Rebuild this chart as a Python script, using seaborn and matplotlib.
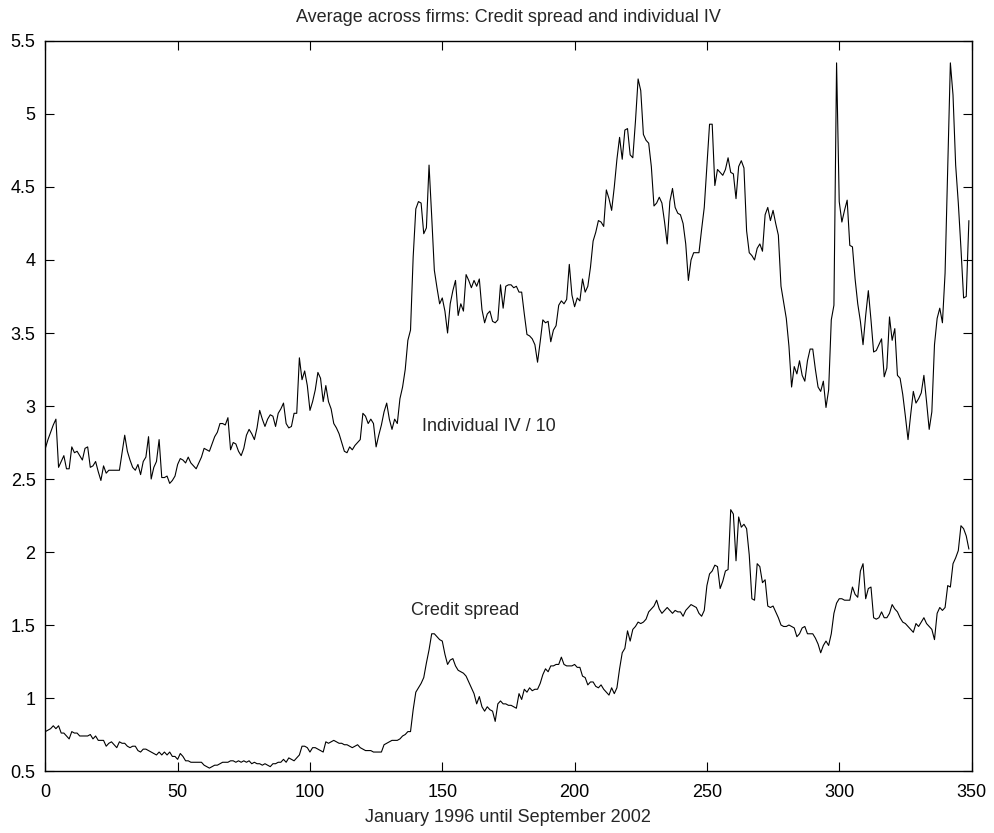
import numpy as np
import pandas as pd
import matplotlib
matplotlib.use("Agg")
import matplotlib.pyplot as plt
import seaborn as sns

# Weekly observations, January 1996 - September 2002 (index 0..349)
individual_iv_over_10 = [
    2.71, 2.77, 2.82, 2.87, 2.91, 2.58, 2.62, 2.66, 2.57, 2.57,
    2.72, 2.68, 2.69, 2.66, 2.63, 2.71, 2.72, 2.58, 2.59, 2.62,
    2.55, 2.49, 2.59, 2.54, 2.56, 2.56, 2.56, 2.56, 2.56, 2.68,
    2.80, 2.69, 2.63, 2.58, 2.56, 2.60, 2.53, 2.62, 2.65, 2.79,
    2.50, 2.58, 2.62, 2.77, 2.51, 2.51, 2.52, 2.47, 2.49, 2.52,
    2.60, 2.64, 2.63, 2.61, 2.65, 2.61, 2.59, 2.57, 2.61, 2.65,
    2.71, 2.70, 2.69, 2.74, 2.79, 2.82, 2.88, 2.88, 2.87, 2.92,
    2.70, 2.75, 2.74, 2.69, 2.66, 2.71, 2.80, 2.84, 2.81, 2.77,
    2.85, 2.97, 2.91, 2.86, 2.91, 2.94, 2.93, 2.86, 2.95, 2.98,
    3.02, 2.88, 2.85, 2.86, 2.95, 2.95, 3.33, 3.18, 3.24, 3.14,
    2.97, 3.03, 3.11, 3.23, 3.19, 3.03, 3.14, 3.03, 2.98, 2.88,
    2.85, 2.81, 2.75, 2.69, 2.68, 2.72, 2.70, 2.73, 2.75, 2.77,
    2.95, 2.93, 2.88, 2.91, 2.88, 2.72, 2.80, 2.87, 2.96, 3.02,
    2.91, 2.84, 2.91, 2.88, 3.05, 3.13, 3.25, 3.45, 3.52, 4.02,
    4.35, 4.40, 4.39, 4.18, 4.22, 4.65, 4.30, 3.93, 3.81, 3.70,
    3.74, 3.65, 3.50, 3.70, 3.79, 3.86, 3.62, 3.70, 3.65, 3.90,
    3.86, 3.81, 3.86, 3.82, 3.87, 3.66, 3.57, 3.63, 3.65, 3.58,
    3.57, 3.59, 3.83, 3.67, 3.82, 3.83, 3.83, 3.81, 3.82, 3.78,
    3.78, 3.63, 3.49, 3.48, 3.46, 3.42, 3.30, 3.44, 3.59, 3.57,
    3.58, 3.44, 3.52, 3.55, 3.69, 3.72, 3.70, 3.73, 3.97, 3.76,
    3.68, 3.74, 3.72, 3.87, 3.78, 3.82, 3.95, 4.13, 4.19, 4.27,
    4.26, 4.23, 4.48, 4.42, 4.34, 4.50, 4.69, 4.84, 4.69, 4.89,
    4.90, 4.72, 4.70, 4.95, 5.24, 5.16, 4.86, 4.82, 4.80, 4.64,
    4.37, 4.39, 4.43, 4.39, 4.26, 4.11, 4.40, 4.49, 4.36, 4.32,
    4.31, 4.25, 4.11, 3.86, 4.00, 4.05, 4.05, 4.05, 4.21, 4.36,
    4.64, 4.93, 4.93, 4.51, 4.62, 4.60, 4.58, 4.62, 4.70, 4.60,
    4.59, 4.42, 4.64, 4.68, 4.63, 4.20, 4.05, 4.03, 4.00, 4.08,
    4.11, 4.06, 4.31, 4.36, 4.27, 4.34, 4.25, 4.17, 3.82, 3.71,
    3.60, 3.41, 3.13, 3.27, 3.22, 3.31, 3.21, 3.17, 3.31, 3.39,
    3.39, 3.25, 3.13, 3.10, 3.17, 2.99, 3.11, 3.59, 3.69, 5.35,
    4.40, 4.26, 4.34, 4.41, 4.10, 4.09, 3.87, 3.70, 3.58, 3.42,
    3.62, 3.79, 3.59, 3.37, 3.38, 3.42, 3.46, 3.20, 3.26, 3.61,
    3.45, 3.53, 3.21, 3.19, 3.08, 2.93, 2.77, 2.94, 3.10, 3.02,
    3.05, 3.09, 3.21, 3.03, 2.84, 2.96, 3.42, 3.60, 3.67, 3.57,
    3.91, 4.63, 5.35, 5.13, 4.65, 4.39, 4.08, 3.74, 3.75, 4.27,
]

credit_spread = [
    0.77, 0.78, 0.79, 0.81, 0.79, 0.81, 0.76, 0.76, 0.74, 0.72,
    0.77, 0.76, 0.76, 0.74, 0.74, 0.74, 0.74, 0.75, 0.72, 0.74,
    0.71, 0.71, 0.71, 0.67, 0.69, 0.70, 0.68, 0.66, 0.70, 0.69,
    0.69, 0.67, 0.66, 0.67, 0.67, 0.64, 0.63, 0.65, 0.65, 0.64,
    0.63, 0.62, 0.61, 0.63, 0.61, 0.63, 0.61, 0.63, 0.60, 0.60,
    0.58, 0.62, 0.60, 0.57, 0.57, 0.56, 0.56, 0.56, 0.56, 0.56,
    0.54, 0.53, 0.52, 0.53, 0.54, 0.54, 0.55, 0.56, 0.56, 0.56,
    0.57, 0.57, 0.56, 0.57, 0.56, 0.57, 0.56, 0.57, 0.55, 0.56,
    0.55, 0.55, 0.54, 0.55, 0.54, 0.53, 0.55, 0.55, 0.56, 0.56,
    0.58, 0.56, 0.59, 0.58, 0.57, 0.59, 0.61, 0.67, 0.67, 0.66,
    0.63, 0.66, 0.66, 0.65, 0.64, 0.63, 0.70, 0.69, 0.70, 0.71,
    0.70, 0.69, 0.69, 0.68, 0.68, 0.67, 0.66, 0.67, 0.68, 0.66,
    0.65, 0.64, 0.64, 0.64, 0.63, 0.63, 0.63, 0.63, 0.68, 0.69,
    0.70, 0.71, 0.71, 0.71, 0.72, 0.74, 0.75, 0.77, 0.77, 0.92,
    1.04, 1.07, 1.10, 1.14, 1.24, 1.33, 1.44, 1.44, 1.42, 1.40,
    1.39, 1.30, 1.23, 1.26, 1.27, 1.22, 1.19, 1.18, 1.17, 1.15,
    1.11, 1.07, 1.03, 0.96, 1.01, 0.94, 0.91, 0.94, 0.92, 0.91,
    0.84, 0.96, 0.98, 0.96, 0.96, 0.95, 0.95, 0.94, 0.93, 1.03,
    0.99, 1.06, 1.04, 1.07, 1.05, 1.06, 1.06, 1.10, 1.16, 1.20,
    1.18, 1.22, 1.22, 1.23, 1.23, 1.28, 1.23, 1.22, 1.22, 1.22,
    1.23, 1.21, 1.21, 1.15, 1.14, 1.09, 1.11, 1.11, 1.08, 1.07,
    1.09, 1.06, 1.04, 1.02, 1.07, 1.03, 1.07, 1.20, 1.31, 1.34,
    1.46, 1.39, 1.47, 1.49, 1.52, 1.51, 1.52, 1.54, 1.59, 1.61,
    1.63, 1.67, 1.61, 1.58, 1.60, 1.62, 1.60, 1.58, 1.60, 1.59,
    1.59, 1.56, 1.60, 1.62, 1.64, 1.63, 1.62, 1.58, 1.56, 1.60,
    1.77, 1.85, 1.87, 1.91, 1.90, 1.75, 1.80, 1.87, 1.88, 2.29,
    2.26, 1.94, 2.24, 2.17, 2.19, 2.16, 1.98, 1.68, 1.67, 1.92,
    1.90, 1.79, 1.81, 1.63, 1.62, 1.63, 1.59, 1.55, 1.50, 1.49,
    1.49, 1.50, 1.49, 1.48, 1.42, 1.44, 1.48, 1.49, 1.44, 1.44,
    1.44, 1.41, 1.37, 1.31, 1.36, 1.39, 1.36, 1.44, 1.58, 1.65,
    1.68, 1.68, 1.67, 1.67, 1.67, 1.76, 1.71, 1.69, 1.87, 1.92,
    1.68, 1.75, 1.76, 1.55, 1.54, 1.55, 1.59, 1.55, 1.55, 1.58,
    1.64, 1.61, 1.59, 1.55, 1.52, 1.51, 1.49, 1.47, 1.45, 1.51,
    1.49, 1.52, 1.55, 1.51, 1.49, 1.47, 1.40, 1.58, 1.62, 1.60,
    1.62, 1.77, 1.76, 1.92, 1.96, 2.01, 2.18, 2.16, 2.11, 2.02,
]

x_ticks = [0, 50, 100, 150, 200, 250, 300, 350]
y_ticks = [0.5, 1, 1.5, 2, 2.5, 3, 3.5, 4, 4.5, 5, 5.5]
y_tick_labels = ["0.5", "1", "1.5", "2", "2.5", "3", "3.5", "4", "4.5", "5", "5.5"]

title_text = "Average across firms: Credit spread and individual IV"
x_label = "January 1996 until September 2002"
iv_label = "Individual IV / 10"
cs_label = "Credit spread"

weeks = np.arange(len(credit_spread))
df = pd.DataFrame({
    "week": np.concatenate([weeks, weeks]),
    "value": individual_iv_over_10 + credit_spread,
    "series": [iv_label] * len(weeks) + [cs_label] * len(weeks),
})

sns.set_style("ticks")
plt.rcParams["font.family"] = ["Liberation Sans", "DejaVu Sans"]
plt.rcParams["font.size"] = 13

fig = plt.figure(figsize=(9.94, 8.33), dpi=100)
ax = fig.add_axes([0.0456, 0.0744, 0.9318, 0.8764])

sns.lineplot(
    data=df, x="week", y="value", units="series", estimator=None,
    color="black", linewidth=0.8, legend=False, ax=ax,
)

ax.set_xlim(0, 350)
ax.set_ylim(0.5, 5.5)
ax.set_xticks(x_ticks)
ax.set_xticklabels([str(t) for t in x_ticks])
ax.set_yticks(y_ticks)
ax.set_yticklabels(y_tick_labels)

for side in ["top", "right", "left", "bottom"]:
    ax.spines[side].set_visible(True)
    ax.spines[side].set_color("black")
    ax.spines[side].set_linewidth(1.0)

ax.tick_params(axis="both", which="both", direction="in", length=6.5,
               width=0.8, color="black", top=True, right=True,
               labelsize=13, labelcolor="black")
ax.tick_params(axis="x", pad=9)
ax.tick_params(axis="y", pad=7)

ax.set_xlabel(x_label, fontsize=13, labelpad=6)
ax.set_ylabel("")
ax.set_title(title_text, fontsize=13, pad=14)

ax.text(142.3, 2.86, iv_label, fontsize=13, ha="left", va="center")
ax.text(138.0, 1.60, cs_label, fontsize=13, ha="left", va="center")

fig.savefig("out.png", dpi=100, facecolor="white")
